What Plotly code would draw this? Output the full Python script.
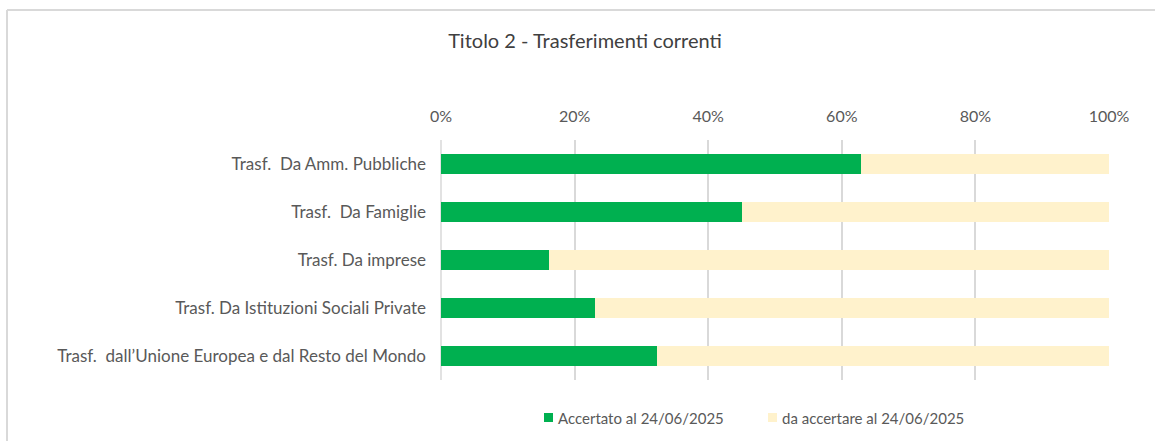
import plotly.graph_objects as go

categories = [
    "Trasf.\u00a0 Da Amm. Pubbliche",
    "Trasf.\u00a0 Da Famiglie",
    "Trasf. Da imprese",
    "Trasf. Da Istituzioni Sociali Private",
    "Trasf.\u00a0 dall\u2019Unione Europea e dal Resto del Mondo",
]
accertato = [62.9, 45.0, 16.1, 23.1, 32.4]
da_accertare = [37.1, 55.0, 83.9, 76.9, 67.6]
tick_vals = [0, 20, 40, 60, 80, 100]
tick_text = ["0%", "20%", "40%", "60%", "80%", "100%"]
series_names = ["Accertato al 24/06/2025", "da accertare al 24/06/2025"]
series_colors = ["#00B050", "#FFF2CC"]

FONT = "Lato"
TXT = "#595959"

fig = go.Figure()
for vals, name, col in zip([accertato, da_accertare], series_names, series_colors):
    fig.add_trace(go.Bar(
        y=categories, x=vals, orientation="h",
        name=name, marker_color=col, marker_line_width=0, showlegend=False,
    ))

L, R, T, B = 441, 1109, 140, 380
W, H = 1155, 441

def px(x):
    return (x - L) / (R - L)

def py(y):
    return (B - y) / (B - T)

shapes = [
    dict(type="line", xref="paper", yref="paper", x0=px(7), x1=px(7), y0=py(10), y1=py(445),
         line=dict(color="#D9D9D9", width=2)),
    dict(type="line", xref="paper", yref="paper", x0=px(7), x1=px(1160), y0=py(10), y1=py(10),
         line=dict(color="#D9D9D9", width=2)),
    dict(type="line", xref="paper", yref="paper", x0=0, x1=0, y0=0, y1=1,
         line=dict(color="#D9D9D9", width=1.5), layer="below"),
]
annotations = []
legend_sq_x = [544, 768]
for sx, name, col in zip(legend_sq_x, series_names, series_colors):
    shapes.append(dict(type="rect", xref="paper", yref="paper",
                       x0=px(sx), x1=px(sx + 9), y0=py(413), y1=py(422),
                       fillcolor=col, line=dict(width=0)))
    annotations.append(dict(text=name, xref="paper", yref="paper", x=px(sx + 12), y=py(417.5),
                            xanchor="left", yanchor="middle", showarrow=False,
                            font=dict(family=FONT, size=15, color=TXT)))

fig.update_layout(
    width=W, height=H,
    barmode="stack", bargap=0.6,
    plot_bgcolor="white", paper_bgcolor="white",
    margin=dict(l=L, r=W - R, t=T, b=H - B, pad=0),
    font=dict(family=FONT, size=15, color=TXT),
    title=dict(text="Titolo 2 - Trasferimenti correnti", x=585 / W, xanchor="center",
               y=1 - 41 / H, yanchor="middle", xref="container", yref="container",
               font=dict(family=FONT, size=20, color="#404040")),
    showlegend=False,
    xaxis=dict(side="top", range=[0, 100], tickvals=tick_vals, ticktext=tick_text,
               showgrid=True, gridcolor="#D9D9D9", gridwidth=1.5, zeroline=False,
               showline=False, ticks="", ticklabelstandoff=14, automargin=False,
               tickfont=dict(family=FONT, size=16, color=TXT), fixedrange=True),
    yaxis=dict(autorange="reversed", showgrid=False, zeroline=False, showline=False,
               ticks="", ticklabelstandoff=14, automargin=False,
               tickfont=dict(family=FONT, size=17, color=TXT)),
    shapes=shapes,
    annotations=annotations,
)

fig.write_html("out.html", config={"displayModeBar": False},
               post_script="document.body.style.margin='0';document.body.style.overflow='hidden';")
